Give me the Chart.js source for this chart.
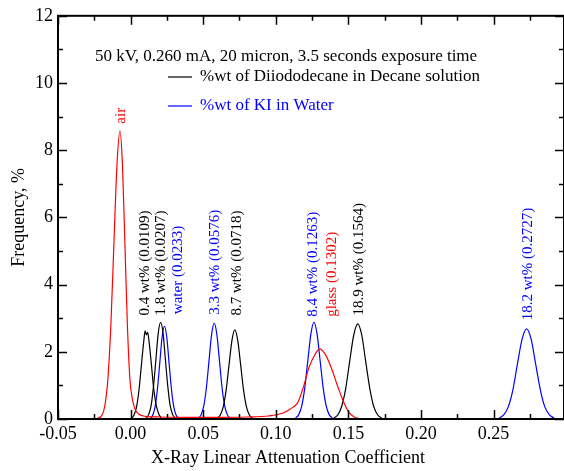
<!DOCTYPE html>
<html>
<head>
<meta charset="utf-8">
<script src="https://cdn.jsdelivr.net/npm/chart.js@4/dist/chart.umd.min.js"></script>
<style>
  html, body { margin: 0; padding: 0; background: #fff; }
  canvas { display: block; }
</style>
</head>
<body>
<canvas id="chart" width="564" height="471"></canvas>
<script>
// ============================================================
// Attenuation histograms
// ============================================================

// Axis ticks
var xTicks = [-0.05, 0, 0.05, 0.10, 0.15, 0.20, 0.25];
var xMinorTicks = [-0.025, 0.025, 0.075, 0.125, 0.175, 0.225, 0.275];
var yTicks = [0, 2, 4, 6, 8, 10, 12];
var yMinorTicks = [1, 3, 5, 7, 9, 11];

// Red: air + glass (one trace)
var airGlassX = [-0.0240, -0.0199, -0.0178, -0.0157, -0.0136, -0.0115, -0.0094, -0.0073, -0.0056, -0.0039, -0.0022, -0.0005, 0.0012, 0.0030, 0.0055,
                 0.0100, 0.0200, 0.0400, 0.0600, 0.0800, 0.0950, 0.1050, 0.1100, 0.1150, 0.1190, 0.1230, 0.1270, 0.1302,
                 0.1340, 0.1380, 0.1420, 0.1460, 0.1500, 0.1540, 0.1580];
var airGlassY = [0.00, 0.10, 0.38, 1.16, 2.78, 5.20, 7.56, 8.57, 7.56, 5.20, 2.78, 1.20, 0.60, 0.30, 0.15,
                 0.08, 0.06, 0.05, 0.05, 0.06, 0.09, 0.18, 0.30, 0.48, 0.95, 1.55, 1.92, 2.09,
                 1.93, 1.55, 1.05, 0.58, 0.22, 0.06, 0.00];

// Black: Diiododecane in Decane
var dd04X = [0.0007, 0.0024, 0.0041, 0.0058, 0.0075, 0.0092, 0.0100, 0.0109, 0.0117, 0.0126, 0.0143, 0.0160, 0.0177, 0.0194, 0.0211];
var dd04Y = [0.03, 0.12, 0.36, 0.87, 1.63, 2.37, 2.62, 2.50, 2.58, 2.35, 1.63, 0.87, 0.40, 0.15, 0.03];
var dd18X = [0.0108, 0.0124, 0.0141, 0.0157, 0.0174, 0.0190, 0.0207, 0.0224, 0.0240, 0.0257, 0.0273, 0.0290, 0.0306];
var dd18Y = [0.03, 0.13, 0.39, 0.94, 1.75, 2.54, 2.88, 2.54, 1.75, 0.94, 0.39, 0.13, 0.03];
var dd87X = [0.0598, 0.0618, 0.0638, 0.0658, 0.0678, 0.0698, 0.0718, 0.0738, 0.0758, 0.0778, 0.0798, 0.0818, 0.0838];
var dd87Y = [0.03, 0.12, 0.36, 0.86, 1.61, 2.34, 2.65, 2.34, 1.61, 0.86, 0.36, 0.12, 0.03];
var dd189X = [0.1399, 0.1427, 0.1454, 0.1482, 0.1509, 0.1537, 0.1564, 0.1592, 0.1619, 0.1647, 0.1674, 0.1702, 0.1729];
var dd189Y = [0.03, 0.12, 0.38, 0.92, 1.72, 2.50, 2.83, 2.50, 1.72, 0.92, 0.38, 0.12, 0.03];

// Blue: KI in Water
var waterX = [0.0137, 0.0153, 0.0169, 0.0185, 0.0201, 0.0217, 0.0233, 0.0249, 0.0265, 0.0281, 0.0297, 0.0313, 0.0329];
var waterY = [0.03, 0.12, 0.37, 0.90, 1.67, 2.44, 2.76, 2.44, 1.67, 0.90, 0.37, 0.12, 0.03];
var ki33X = [0.0468, 0.0486, 0.0504, 0.0522, 0.0540, 0.0558, 0.0576, 0.0594, 0.0612, 0.0630, 0.0648, 0.0666, 0.0684];
var ki33Y = [0.03, 0.13, 0.39, 0.93, 1.73, 2.52, 2.85, 2.52, 1.73, 0.93, 0.39, 0.13, 0.03];
var ki84X = [0.1137, 0.1158, 0.1179, 0.1200, 0.1221, 0.1242, 0.1263, 0.1284, 0.1305, 0.1326, 0.1347, 0.1368, 0.1389];
var ki84Y = [0.03, 0.13, 0.39, 0.94, 1.75, 2.54, 2.88, 2.54, 1.75, 0.94, 0.39, 0.13, 0.03];
var ki182X = [0.2538, 0.2570, 0.2601, 0.2633, 0.2664, 0.2696, 0.2727, 0.2759, 0.2790, 0.2822, 0.2853, 0.2885, 0.2916];
var ki182Y = [0.03, 0.12, 0.36, 0.87, 1.63, 2.37, 2.68, 2.37, 1.63, 0.87, 0.36, 0.12, 0.03];

// Peak labels (text read upward, anchored at data coords)
var peakLabels = ['air', '0.4 wt% (0.0109)', '1.8 wt% (0.0207)', 'water (0.0233)', '3.3 wt% (0.0576)',
                  '8.7 wt% (0.0718)', '8.4 wt% (0.1263)', 'glass (0.1302)', '18.9 wt% (0.1564)', '18.2 wt% (0.2727)'];
var peakLabelX = [-0.0065, 0.0099, 0.0207, 0.0329, 0.0581, 0.0731, 0.1258, 0.1385, 0.1573, 0.2739];
var peakLabelY = [8.79, 3.08, 3.08, 3.12, 3.10, 3.08, 3.04, 3.04, 3.08, 2.94];

var RED = '#ff0000', BLACK = '#000000', BLUE = '#0000ff';
var peakLabelColor = [RED, BLACK, BLACK, BLUE, BLUE, BLACK, BLUE, RED, BLACK, BLUE];

var SERIF = "'Liberation Serif', 'Times New Roman', serif";

function pts(xs, ys) {
    return xs.map(function(x, i) { return { x: x, y: ys[i] }; });
}

function series(xs, ys, color) {
    return {
        data: pts(xs, ys),
        borderColor: color,
        borderWidth: 1.2,
        pointRadius: 0,
        fill: false,
        cubicInterpolationMode: 'monotone'
    };
}

var datasets = [
    series(airGlassX, airGlassY, RED),
    series(dd04X, dd04Y, BLACK),
    series(dd18X, dd18Y, BLACK),
    series(dd87X, dd87Y, BLACK),
    series(dd189X, dd189Y, BLACK),
    series(waterX, waterY, BLUE),
    series(ki33X, ki33Y, BLUE),
    series(ki84X, ki84Y, BLUE),
    series(ki182X, ki182Y, BLUE)
];

// Frame, inward ticks, annotations, legend
var framePlugin = {
    id: 'frame',
    afterDatasetsDraw: function(chart) {
        var ctx = chart.ctx;
        var a = chart.chartArea;
        var xs = chart.scales.x, ys = chart.scales.y;

        ctx.save();
        ctx.strokeStyle = '#000';
        ctx.lineWidth = 1.5;
        ctx.beginPath();
        function xTick(v, len) {
            var px = Math.round(xs.getPixelForValue(v)) + 0.5;
            ctx.moveTo(px, a.bottom); ctx.lineTo(px, a.bottom - len);
            ctx.moveTo(px, a.top); ctx.lineTo(px, a.top + len);
        }
        function yTick(v, len) {
            var py = Math.round(ys.getPixelForValue(v)) + 0.5;
            ctx.moveTo(a.left, py); ctx.lineTo(a.left + len, py);
            ctx.moveTo(a.right, py); ctx.lineTo(a.right - len, py);
        }
        xTicks.forEach(function(v) { xTick(v, 9); });
        xMinorTicks.forEach(function(v) { xTick(v, 5); });
        yTicks.forEach(function(v) { yTick(v, 9); });
        yMinorTicks.forEach(function(v) { yTick(v, 5); });
        ctx.stroke();

        ctx.lineWidth = 2;
        ctx.strokeRect(a.left, a.top, a.right - a.left, a.bottom - a.top);

        // Peak labels
        ctx.font = '15px ' + SERIF;
        ctx.textAlign = 'left';
        ctx.textBaseline = 'middle';
        peakLabels.forEach(function(t, i) {
            ctx.save();
            ctx.translate(xs.getPixelForValue(peakLabelX[i]), ys.getPixelForValue(peakLabelY[i]));
            ctx.rotate(-Math.PI / 2);
            ctx.fillStyle = peakLabelColor[i];
            ctx.fillText(t, 0, 0);
            ctx.restore();
        });

        // Heading and legend
        ctx.font = '17px ' + SERIF;
        ctx.fillStyle = '#000';
        ctx.textBaseline = 'alphabetic';
        ctx.fillText('50 kV, 0.260 mA, 20 micron, 3.5 seconds exposure time', 95, 61);

        ctx.textBaseline = 'middle';
        ctx.lineWidth = 1.2;
        [['%wt of Diiododecane in Decane solution', BLACK, 77],
         ['%wt of KI in Water', BLUE, 106]].forEach(function(item) {
            ctx.strokeStyle = item[1];
            ctx.beginPath();
            ctx.moveTo(168, item[2]); ctx.lineTo(192, item[2]);
            ctx.stroke();
            ctx.fillStyle = item[1];
            ctx.fillText(item[0], 200, item[2]);
        });

        // X axis title
        ctx.fillStyle = '#000';
        ctx.font = '18px ' + SERIF;
        ctx.textAlign = 'center';
        ctx.fillText('X-Ray Linear Attenuation Coefficient', 288, 458);
        ctx.restore();
    }
};

var ctx = document.getElementById('chart').getContext('2d');
var chart = new Chart(ctx, {
    type: 'line',
    data: { datasets: datasets },
    options: {
        responsive: false,
        animation: false,
        layout: { padding: { top: 15, right: 0, left: 0, bottom: 0 } },
        plugins: {
            legend: { display: false },
            tooltip: { enabled: false }
        },
        scales: {
            x: {
                type: 'linear',
                min: -0.05,
                max: 0.2985,
                grid: { display: false, drawTicks: false },
                border: { display: false },
                afterBuildTicks: function(s) { s.ticks = xTicks.map(function(v) { return { value: v }; }); },
                afterFit: function(s) { s.height = 52; },
                ticks: {
                    color: '#000',
                    font: { family: SERIF, size: 18 },
                    padding: 4,
                    maxRotation: 0,
                    autoSkip: false,
                    callback: function(v) { return Number(v).toFixed(2); }
                }
            },
            y: {
                min: 0,
                max: 12,
                grid: { display: false, drawTicks: false },
                border: { display: false },
                afterBuildTicks: function(s) { s.ticks = yTicks.map(function(v) { return { value: v }; }); },
                afterFit: function(s) { s.width = 58; },
                ticks: {
                    color: '#000',
                    font: { family: SERIF, size: 18 },
                    padding: 5
                },
                title: {
                    display: true,
                    text: 'Frequency, %',
                    color: '#000',
                    font: { family: SERIF, size: 18 },
                    padding: { top: 8, bottom: 0 }
                }
            }
        }
    },
    plugins: [framePlugin]
});
</script>
</body>
</html>
